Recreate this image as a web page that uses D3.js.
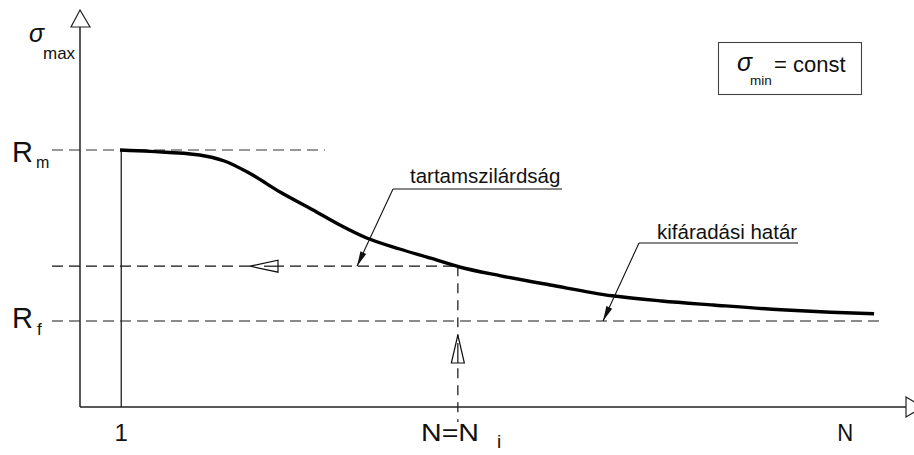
<!DOCTYPE html>
<html><head><meta charset="utf-8">
<script src="https://cdn.jsdelivr.net/npm/d3@7"></script>
<style>
html,body{margin:0;padding:0;background:#fff;}
svg{display:block;}
text{font-family:"Liberation Sans",Arial,sans-serif;fill:#111;}
</style></head>
<body>
<script>
// ---- data (abstract units: N along x, sigma along y) ----
const curveN     = [0.97, 1.7, 2.9, 3.5, 4.1, 4.85, 5.65, 6.3, 6.95, 7.75, 8.5, 9.2, 10.2, 11.4, 12.9, 14.1, 15.35, 17.0, 18.2, 19.25];
const curveSigma = [64.25, 63.9, 63.0, 61.5, 58.5, 53.75, 49.25, 45.5, 42.25, 39.5, 37.2, 35.0, 32.8, 30.5, 27.8, 26.5, 25.5, 24.3, 23.7, 23.3];
const Rm = 64.25, Rf = 21.5, sigmaI = 35.2;
const N1 = 1, Ni = 9.16, Nend = 18.55;
const xTickLabels = ["1", "N=N", "N"];
const leaderLabels = ["tartamszilárdság", "kifáradási határ"];

const W = 914, H = 455;
const x = d3.scaleLinear().domain([0, 20]).range([80, 905]);
const y = d3.scaleLinear().domain([0, 100]).range([407, 7]);

const svg = d3.select("body").append("svg").attr("width", W).attr("height", H);

// dashed reference lines
const dash = "11,6";
svg.append("line").attr("x1", 52).attr("x2", 325).attr("y1", y(Rm)).attr("y2", y(Rm))
  .attr("stroke", "#777").attr("stroke-width", 1.3).attr("stroke-dasharray", dash);
svg.append("line").attr("x1", 52).attr("x2", 885).attr("y1", y(Rf)).attr("y2", y(Rf))
  .attr("stroke", "#666").attr("stroke-width", 1.3).attr("stroke-dasharray", dash);
svg.append("line").attr("x1", 52).attr("x2", x(Ni)).attr("y1", y(sigmaI)).attr("y2", y(sigmaI))
  .attr("stroke", "#111").attr("stroke-width", 1.2).attr("stroke-dasharray", dash);
svg.append("line").attr("x1", x(Ni)).attr("x2", x(Ni)).attr("y1", y(sigmaI)).attr("y2", 422)
  .attr("stroke", "#111").attr("stroke-width", 1.2).attr("stroke-dasharray", "10,7");

// axes
svg.append("line").attr("x1", x(0)).attr("x2", x(0)).attr("y1", y(0)).attr("y2", 27)
  .attr("stroke", "#222").attr("stroke-width", 1.5);
svg.append("line").attr("x1", x(0)).attr("x2", 906).attr("y1", y(0)).attr("y2", y(0))
  .attr("stroke", "#222").attr("stroke-width", 1.5);
// hollow axis arrowheads
svg.append("path").attr("d", `M${x(0)},10 L${x(0)-9},27 L${x(0)+10},27 Z`)
  .attr("fill", "#fff").attr("stroke", "#222").attr("stroke-width", 1.2);
svg.append("path").attr("d", `M906,${y(0)-10} L923,${y(0)} L906,${y(0)+10} Z`)
  .attr("fill", "#fff").attr("stroke", "#222").attr("stroke-width", 1.2);

// vertical line at N = 1
svg.append("line").attr("x1", x(N1)).attr("x2", x(N1)).attr("y1", y(0)).attr("y2", y(Rm))
  .attr("stroke", "#222").attr("stroke-width", 1.3);

// main curve
const pts = curveN.map((n, i) => [n, curveSigma[i]]);
svg.append("path").datum(pts)
  .attr("d", d3.line().x(d => x(d[0])).y(d => y(d[1])).curve(d3.curveMonotoneX))
  .attr("fill", "none").attr("stroke", "#000").attr("stroke-width", 3.4).attr("stroke-linecap", "butt");

// hollow arrows on reference lines
const lx = 250, ly = y(sigmaI);
svg.append("path").attr("d", `M${lx},${ly} L${lx+28},${ly-6} L${lx+28},${ly+6} Z`)
  .attr("fill", "#fff").attr("stroke", "#111").attr("stroke-width", 1.2);
svg.append("line").attr("x1", lx+14).attr("x2", lx+28).attr("y1", ly).attr("y2", ly)
  .attr("stroke", "#111").attr("stroke-width", 1.2);
const ux = x(Ni), uy = 335;
svg.append("path").attr("d", `M${ux},${uy} L${ux-6.5},${uy+28} L${ux+6.5},${uy+28} Z`)
  .attr("fill", "#fff").attr("stroke", "#111").attr("stroke-width", 1.2);
svg.append("line").attr("x1", ux).attr("x2", ux).attr("y1", uy+8).attr("y2", uy+28)
  .attr("stroke", "#111").attr("stroke-width", 1.2);

// leaders with filled arrowheads
function leader(x0, yUnder, xEndUnder, tipX, tipY, label, tx, ty) {
  svg.append("line").attr("x1", x0).attr("x2", xEndUnder).attr("y1", yUnder).attr("y2", yUnder)
    .attr("stroke", "#111").attr("stroke-width", 1.1);
  svg.append("line").attr("x1", x0).attr("x2", tipX).attr("y1", yUnder).attr("y2", tipY)
    .attr("stroke", "#111").attr("stroke-width", 1.1);
  const ang = Math.atan2(tipY - yUnder, tipX - x0);
  const L = 15, hw = 3.2;
  const bx = tipX - L * Math.cos(ang), by = tipY - L * Math.sin(ang);
  const px = -Math.sin(ang) * hw, py = Math.cos(ang) * hw;
  svg.append("path").attr("d", `M${tipX},${tipY} L${bx+px},${by+py} L${bx-px},${by-py} Z`).attr("fill", "#111");
  svg.append("text").attr("x", tx).attr("y", ty).attr("font-size", 20.5).text(label);
}
leader(393, 189, 562, 357, y(sigmaI), leaderLabels[0], 410, 183);
leader(639, 243, 798, 603, y(Rf), leaderLabels[1], 657, 239);

// y labels
const ylab = svg.append("g");
ylab.append("text").attr("x", 12).attr("y", y(Rm) + 12).attr("font-size", 29).text("R");
ylab.append("text").attr("x", 36).attr("y", y(Rm) + 18).attr("font-size", 16).text("m");
ylab.append("text").attr("x", 12).attr("y", y(Rf) + 7).attr("font-size", 29).text("R");
ylab.append("text").attr("x", 37).attr("y", y(Rf) + 14).attr("font-size", 17).text("f");
ylab.append("text").attr("x", 29).attr("y", 42).attr("font-size", 25).attr("font-style", "italic")
  .attr("font-family", "Liberation Serif, serif").text("σ");
ylab.append("text").attr("x", 43).attr("y", 59).attr("font-size", 17).text("max");

// x labels
function xl(tx, ty, fs, s, anchor, len) {
  const t = svg.append("text").attr("x", tx).attr("y", ty)
    .attr("font-size", fs).attr("text-anchor", anchor || "start").text(s);
  if (len) t.attr("textLength", len).attr("lengthAdjust", "spacingAndGlyphs");
  return t;
}
xl(x(N1), 441, 24, xTickLabels[0], "middle");
xl(421, 441, 24, xTickLabels[1], "start", 58);
xl(497, 448, 19, "i");
xl(x(Nend), 441, 24, xTickLabels[2], "middle", 16);

// box
svg.append("rect").attr("x", 718.5).attr("y", 42.5).attr("width", 143).attr("height", 52)
  .attr("fill", "none").attr("stroke", "#444").attr("stroke-width", 1.1);
svg.append("text").attr("x", 737).attr("y", 71).attr("font-size", 25).attr("font-style", "italic")
  .attr("font-family", "Liberation Serif, serif").text("σ");
svg.append("text").attr("x", 750).attr("y", 85).attr("font-size", 13.5).text("min");
svg.append("text").attr("x", 774).attr("y", 72).attr("font-size", 22).text("= const");
</script>
</body></html>
